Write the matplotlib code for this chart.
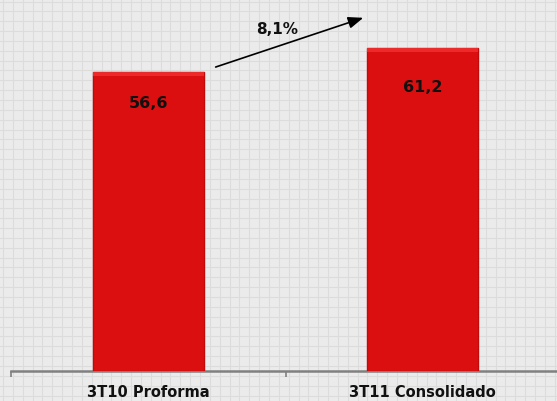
import numpy as np
import matplotlib.pyplot as plt

# data
categories = ['3T10 Proforma', '3T11 Consolidado']
values = [56.6, 61.2]
value_labels = ['56,6', '61,2']
growth_label = '8,1%'

W, H = 557, 401
fig = plt.figure(figsize=(W / 100, H / 100), dpi=100)
fig.patch.set_facecolor('#ebebeb')

# grid background over the whole picture
bg = fig.add_axes([0, 0, 1, 1])
bg.set_xlim(0, W)
bg.set_ylim(H, 0)
bg.axis('off')
bg.set_facecolor('#ebebeb')
for gx in np.arange(3, W, 9.85):
    bg.axvline(gx, color='#dcdcdc', lw=0.8, zorder=0)
for gy in np.arange(1.5, H, 9.85):
    bg.axhline(gy, color='#dcdcdc', lw=0.8, zorder=0)

# main axes: left edge at x=11, baseline at y=371
left, base = 11, 371
ax = fig.add_axes([left / W, (H - base) / H, 549 / W, base / H])
ax.patch.set_alpha(0)
ax.set_xlim(-0.5, 1.5)
ax.set_ylim(0, 70.2)

x = np.arange(len(categories))
bars = ax.bar(x, values, width=0.404, color='#db0f0f', edgecolor='#c20a0a',
              linewidth=1.0, zorder=3)
# slight bevel highlight on top
ax.bar(x, [0.8] * len(values), bottom=np.array(values) - 0.8, width=0.404,
       color='#ec2a2a', linewidth=0, zorder=4)

label_offsets = [-32, -40]
for xi, v, lab, off in zip(x, values, value_labels, label_offsets):
    ax.annotate(lab, (xi, v), xytext=(0, off * 0.72), textcoords='offset points',
                ha='center', va='center', fontsize=11.5, fontweight='bold',
                color='#111111', zorder=5)

for s in ['top', 'right', 'left']:
    ax.spines[s].set_visible(False)
ax.spines['bottom'].set_color('#808080')
ax.spines['bottom'].set_linewidth(1.8)
ax.set_yticks([])
ax.set_xticks([-0.5, 0.5, 1.5], minor=False)
ax.set_xticklabels([])
ax.tick_params(axis='x', length=4, width=1.2, color='#808080')
for xi, c in zip(x, categories):
    ax.annotate(c, (xi, 0), xytext=(0, -21.5 * 0.72), textcoords='offset points',
                ha='center', va='center', fontsize=10.5, fontweight='bold',
                color='#111111', annotation_clip=False)

# growth arrow
ax.annotate('', xy=(0.793, 67.0), xytext=(0.236, 57.35),
            arrowprops=dict(arrowstyle='-|>,head_length=0.9,head_width=0.35',
                            color='black', lw=1.2), zorder=6)
ax.text(0.469, 64.7, growth_label, ha='center', va='center', fontsize=11,
        fontweight='bold', color='#111111')

fig.savefig('out.png', dpi=100, facecolor=fig.get_facecolor())
